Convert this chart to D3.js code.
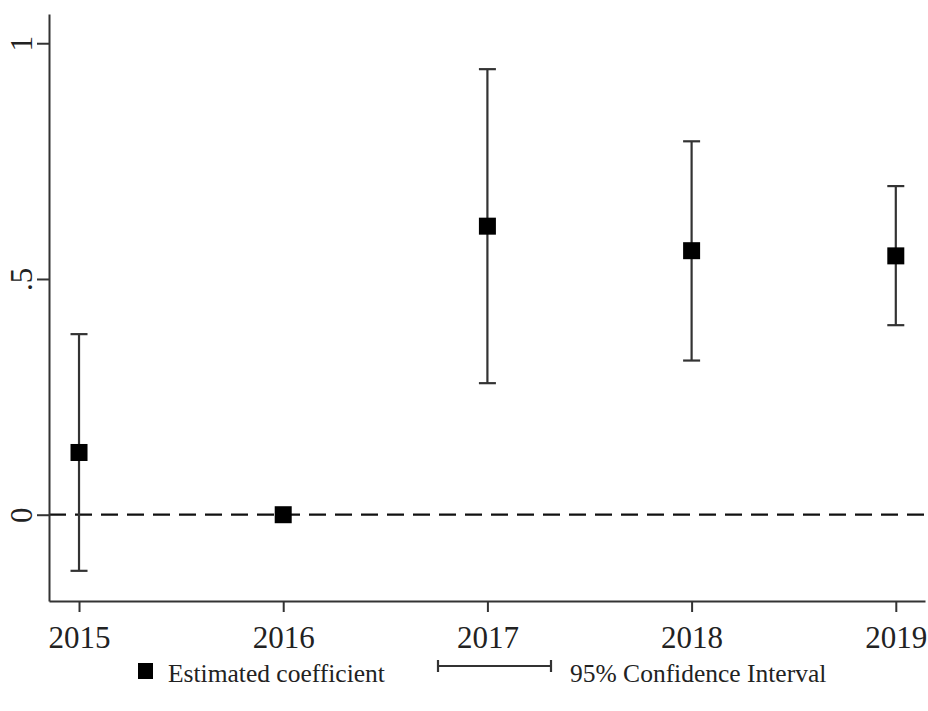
<!DOCTYPE html>
<html>
<head>
<meta charset="utf-8">
<script src="https://cdn.jsdelivr.net/npm/d3@7"></script>
<style>
  html, body { margin: 0; padding: 0; background: #fff; }
  svg { display: block; }
  text { font-family: "Liberation Serif", "Times New Roman", serif; fill: #222; }
</style>
</head>
<body>
<svg id="chart" width="928" height="711"></svg>
<script>
// Event-study estimates by year (2016 is the reference year)
const years    = [2015, 2016, 2017, 2018, 2019];
const estimate = [0.132, 0, 0.612, 0.560, 0.549];
const ciLow    = [-0.119, null, 0.279, 0.327, 0.402];
const ciHigh   = [0.383, null, 0.945, 0.792, 0.697];
const yTicks   = [0, 0.5, 1];
const yTickLabels = ["0", ".5", "1"];
const legendLabels = ["Estimated coefficient", "95% Confidence Interval"];

const svg = d3.select("#chart");
const plot = { left: 49, right: 925, top: 14, bottom: 601 };

const x = d3.scaleLinear().domain([2014.853, 2019.143]).range([plot.left, plot.right]);
const y = d3.scaleLinear().domain([-0.183, 1.062]).range([plot.bottom, plot.top]);

const ink = "#333";

// Reference line at zero
svg.append("line")
  .attr("x1", plot.left).attr("x2", plot.right)
  .attr("y1", y(0)).attr("y2", y(0))
  .attr("stroke", "#111").attr("stroke-width", 2.2)
  .attr("stroke-dasharray", "17,9");

// Axes
const xAxis = d3.axisBottom(x).tickValues(years).tickFormat(d3.format("d"))
  .tickSize(11).tickSizeOuter(0).tickPadding(14);
const gx = svg.append("g").attr("transform", `translate(0,${plot.bottom})`).call(xAxis);
gx.select(".domain").attr("stroke", ink).attr("stroke-width", 2);
gx.selectAll(".tick line").attr("stroke", ink).attr("stroke-width", 2);
gx.selectAll(".tick text").style("font-size", "31px").attr("fill", "#222");

const yAxis = d3.axisLeft(y).tickValues(yTicks).tickFormat((d, i) => yTickLabels[i])
  .tickSize(12).tickSizeOuter(0).tickPadding(0);
const gy = svg.append("g").attr("transform", `translate(${plot.left},0)`).call(yAxis);
gy.select(".domain").attr("stroke", ink).attr("stroke-width", 2);
gy.selectAll(".tick line").attr("stroke", ink).attr("stroke-width", 2);
gy.selectAll(".tick text")
  .style("font-size", "31px").attr("fill", "#222")
  .attr("x", 0).attr("y", 0).attr("dy", 0)
  .attr("text-anchor", "middle")
  .attr("transform", "translate(-17,0) rotate(-90)");

// Confidence intervals
const rows = years.map((yr, i) => ({ yr, est: estimate[i], lo: ciLow[i], hi: ciHigh[i] }));
const ci = rows.filter(d => d.lo !== null);
const capW = 17;
const g = svg.append("g");
g.selectAll("line.ci").data(ci).join("line")
  .attr("x1", d => x(d.yr)).attr("x2", d => x(d.yr))
  .attr("y1", d => y(d.lo)).attr("y2", d => y(d.hi))
  .attr("stroke", ink).attr("stroke-width", 2.2);
["lo", "hi"].forEach(k => {
  g.selectAll(`line.cap-${k}`).data(ci).join("line")
    .attr("x1", d => x(d.yr) - capW / 2).attr("x2", d => x(d.yr) + capW / 2)
    .attr("y1", d => y(d[k])).attr("y2", d => y(d[k]))
    .attr("stroke", ink).attr("stroke-width", 2.2);
});

// Point estimates
const sq = 17;
g.selectAll("rect.est").data(rows).join("rect")
  .attr("x", d => x(d.yr) - sq / 2).attr("y", d => y(d.est) - sq / 2)
  .attr("width", sq).attr("height", sq).attr("fill", "#000");

// Legend
const lg = svg.append("g");
lg.append("rect").attr("x", 138).attr("y", 663).attr("width", 15).attr("height", 16).attr("fill", "#000");
lg.append("text").attr("x", 168).attr("y", 682).style("font-size", "25.5px").text(legendLabels[0]);
const lx1 = 438, lx2 = 551, ly = 666;
lg.append("line").attr("x1", lx1).attr("x2", lx2).attr("y1", ly).attr("y2", ly)
  .attr("stroke", ink).attr("stroke-width", 2.2);
[lx1, lx2].forEach(xx => lg.append("line").attr("x1", xx).attr("x2", xx)
  .attr("y1", ly - 6).attr("y2", ly + 6).attr("stroke", ink).attr("stroke-width", 2.2));
lg.append("text").attr("x", 570).attr("y", 682).style("font-size", "25.5px").text(legendLabels[1]);
</script>
</body>
</html>
